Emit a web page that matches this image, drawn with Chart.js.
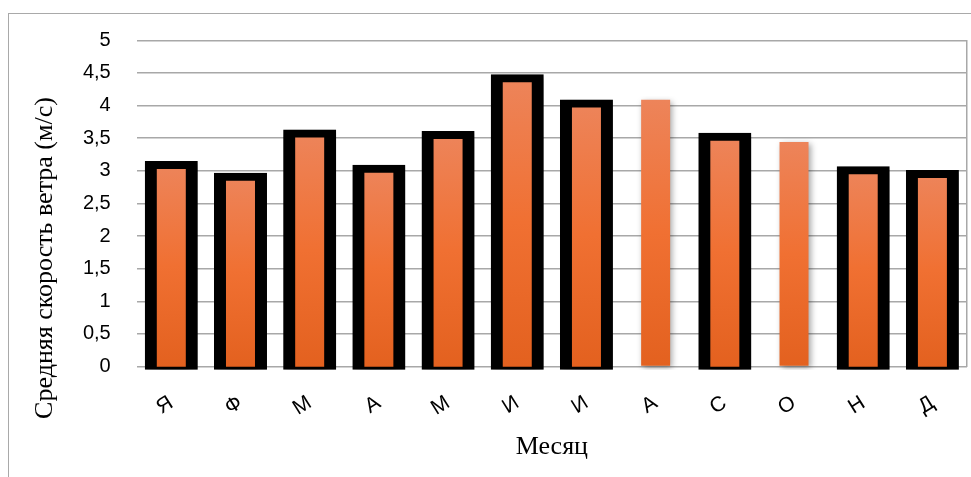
<!DOCTYPE html>
<html lang="ru">
<head>
<meta charset="utf-8">
<title>Средняя скорость ветра по месяцам</title>
<script src="https://cdn.jsdelivr.net/npm/chart.js@4/dist/chart.umd.min.js"></script>
<style>
  html, body { margin: 0; padding: 0; background: #ffffff; }
  #wrap { position: relative; width: 971px; height: 477px; overflow: hidden; }
  #frame {
    position: absolute; left: 8px; top: 13px; width: 980px; height: 480px;
    border-top: 1.5px solid #a9a9a9; border-left: 1.5px solid #a9a9a9;
    box-sizing: border-box;
  }
  #chart { position: absolute; left: 0; top: 0; }
</style>
</head>
<body>
<div id="wrap">
  <div id="frame"></div>
  <canvas id="chart" width="971" height="477"></canvas>
</div>
<script>
// Месяцы (первые буквы) и средняя скорость ветра, м/с
const months = ['Я', 'Ф', 'М', 'А', 'М', 'И', 'И', 'А', 'С', 'О', 'Н', 'Д'];
const windSpeed = [3.09, 2.91, 3.57, 3.03, 3.55, 4.42, 4.03, 4.09, 3.52, 3.44, 3.01, 2.95];
const yTickLabels = ['0', '0,5', '1', '1,5', '2', '2,5', '3', '3,5', '4', '4,5', '5'];
const yTitle = 'Средняя скорость ветра (м/с)';
const xTitle = 'Месяц';

// Столбцы без чёрной рамки (август, октябрь)
const plainBars = [7, 9];

const GRID = '#a8a8a8';
const SERIF = '"Liberation Serif", "Times New Roman", serif';
const SANS = '"Liberation Sans", Arial, sans-serif';

function barGradient(context) {
  const chart = context.chart;
  const y = chart.scales.y;
  if (!chart.chartArea || !y) return '#ee7a3f';
  const v = context.parsed ? context.parsed.y : windSpeed[context.dataIndex];
  const top = y.getPixelForValue(v);
  const base = y.getPixelForValue(0);
  const g = chart.ctx.createLinearGradient(0, top, 0, base);
  g.addColorStop(0, '#ed845a');
  g.addColorStop(0.5, '#f07032');
  g.addColorStop(1, '#e3611f');
  return g;
}

// Мягкая тень под столбцами
const barShadow = {
  id: 'barShadow',
  beforeDatasetsDraw(chart) {
    const ctx = chart.ctx;
    ctx.save();
    ctx.shadowColor = 'rgba(0,0,0,0.35)';
    ctx.shadowBlur = 6;
    ctx.shadowOffsetX = 2;
    ctx.shadowOffsetY = 2;
  },
  afterDatasetsDraw(chart) {
    chart.ctx.restore();
  }
};

// Подпись вертикальной оси
const sideTitle = {
  id: 'sideTitle',
  afterDraw(chart) {
    const ctx = chart.ctx;
    ctx.save();
    ctx.translate(45, 258);
    ctx.rotate(-Math.PI / 2);
    ctx.font = '26px ' + SERIF;
    ctx.fillStyle = '#000000';
    ctx.textAlign = 'center';
    ctx.textBaseline = 'middle';
    ctx.fillText(yTitle, 0, 0);
    ctx.restore();
  }
};

new Chart(document.getElementById('chart'), {
  type: 'bar',
  data: {
    labels: months,
    datasets: [{
      data: windSpeed,
      backgroundColor: barGradient,
      borderColor: (c) => plainBars.includes(c.dataIndex) ? 'rgba(0,0,0,0)' : '#000000',
      borderWidth: (c) => plainBars.includes(c.dataIndex)
        ? { top: 4, left: 12, right: 12, bottom: 4 }
        : { top: 8, left: 12, right: 12, bottom: 3 },
      borderSkipped: false,
      inflateAmount: 4,
      barThickness: 45,
      clip: false
    }]
  },
  options: {
    responsive: false,
    animation: false,
    devicePixelRatio: 1,
    layout: { padding: { top: 40.3, right: 4, bottom: 0, left: 0 } },
    plugins: {
      legend: { display: false },
      tooltip: { enabled: false }
    },
    scales: {
      x: {
        grid: { display: false, drawTicks: false },
        border: { display: false },
        ticks: {
          color: '#000000',
          font: { family: SANS, size: 21 },
          minRotation: 32,
          maxRotation: 32,
          autoSkip: false,
          padding: 24
        },
        title: {
          display: true,
          text: xTitle,
          color: '#000000',
          font: { family: SERIF, size: 26 },
          padding: { top: 0, bottom: 14 }
        },
        afterFit(scale) { scale.height = 110.5; }
      },
      y: {
        min: 0,
        max: 5,
        ticks: {
          stepSize: 0.5,
          color: '#000000',
          font: { family: SANS, size: 20 },
          padding: 26,
          callback: (value, index) => yTickLabels[index]
        },
        grid: { color: GRID, lineWidth: 1.5, drawTicks: false },
        border: { display: false },
        afterFit(scale) { scale.width = 136.7; }
      },
      y2: {
        position: 'right',
        min: 0,
        max: 5,
        ticks: { display: false },
        grid: { display: false, drawTicks: false },
        border: { display: true, color: GRID, width: 1.5 },
        afterFit(scale) { scale.width = 0; }
      }
    }
  },
  plugins: [barShadow, sideTitle]
});
</script>
</body>
</html>
